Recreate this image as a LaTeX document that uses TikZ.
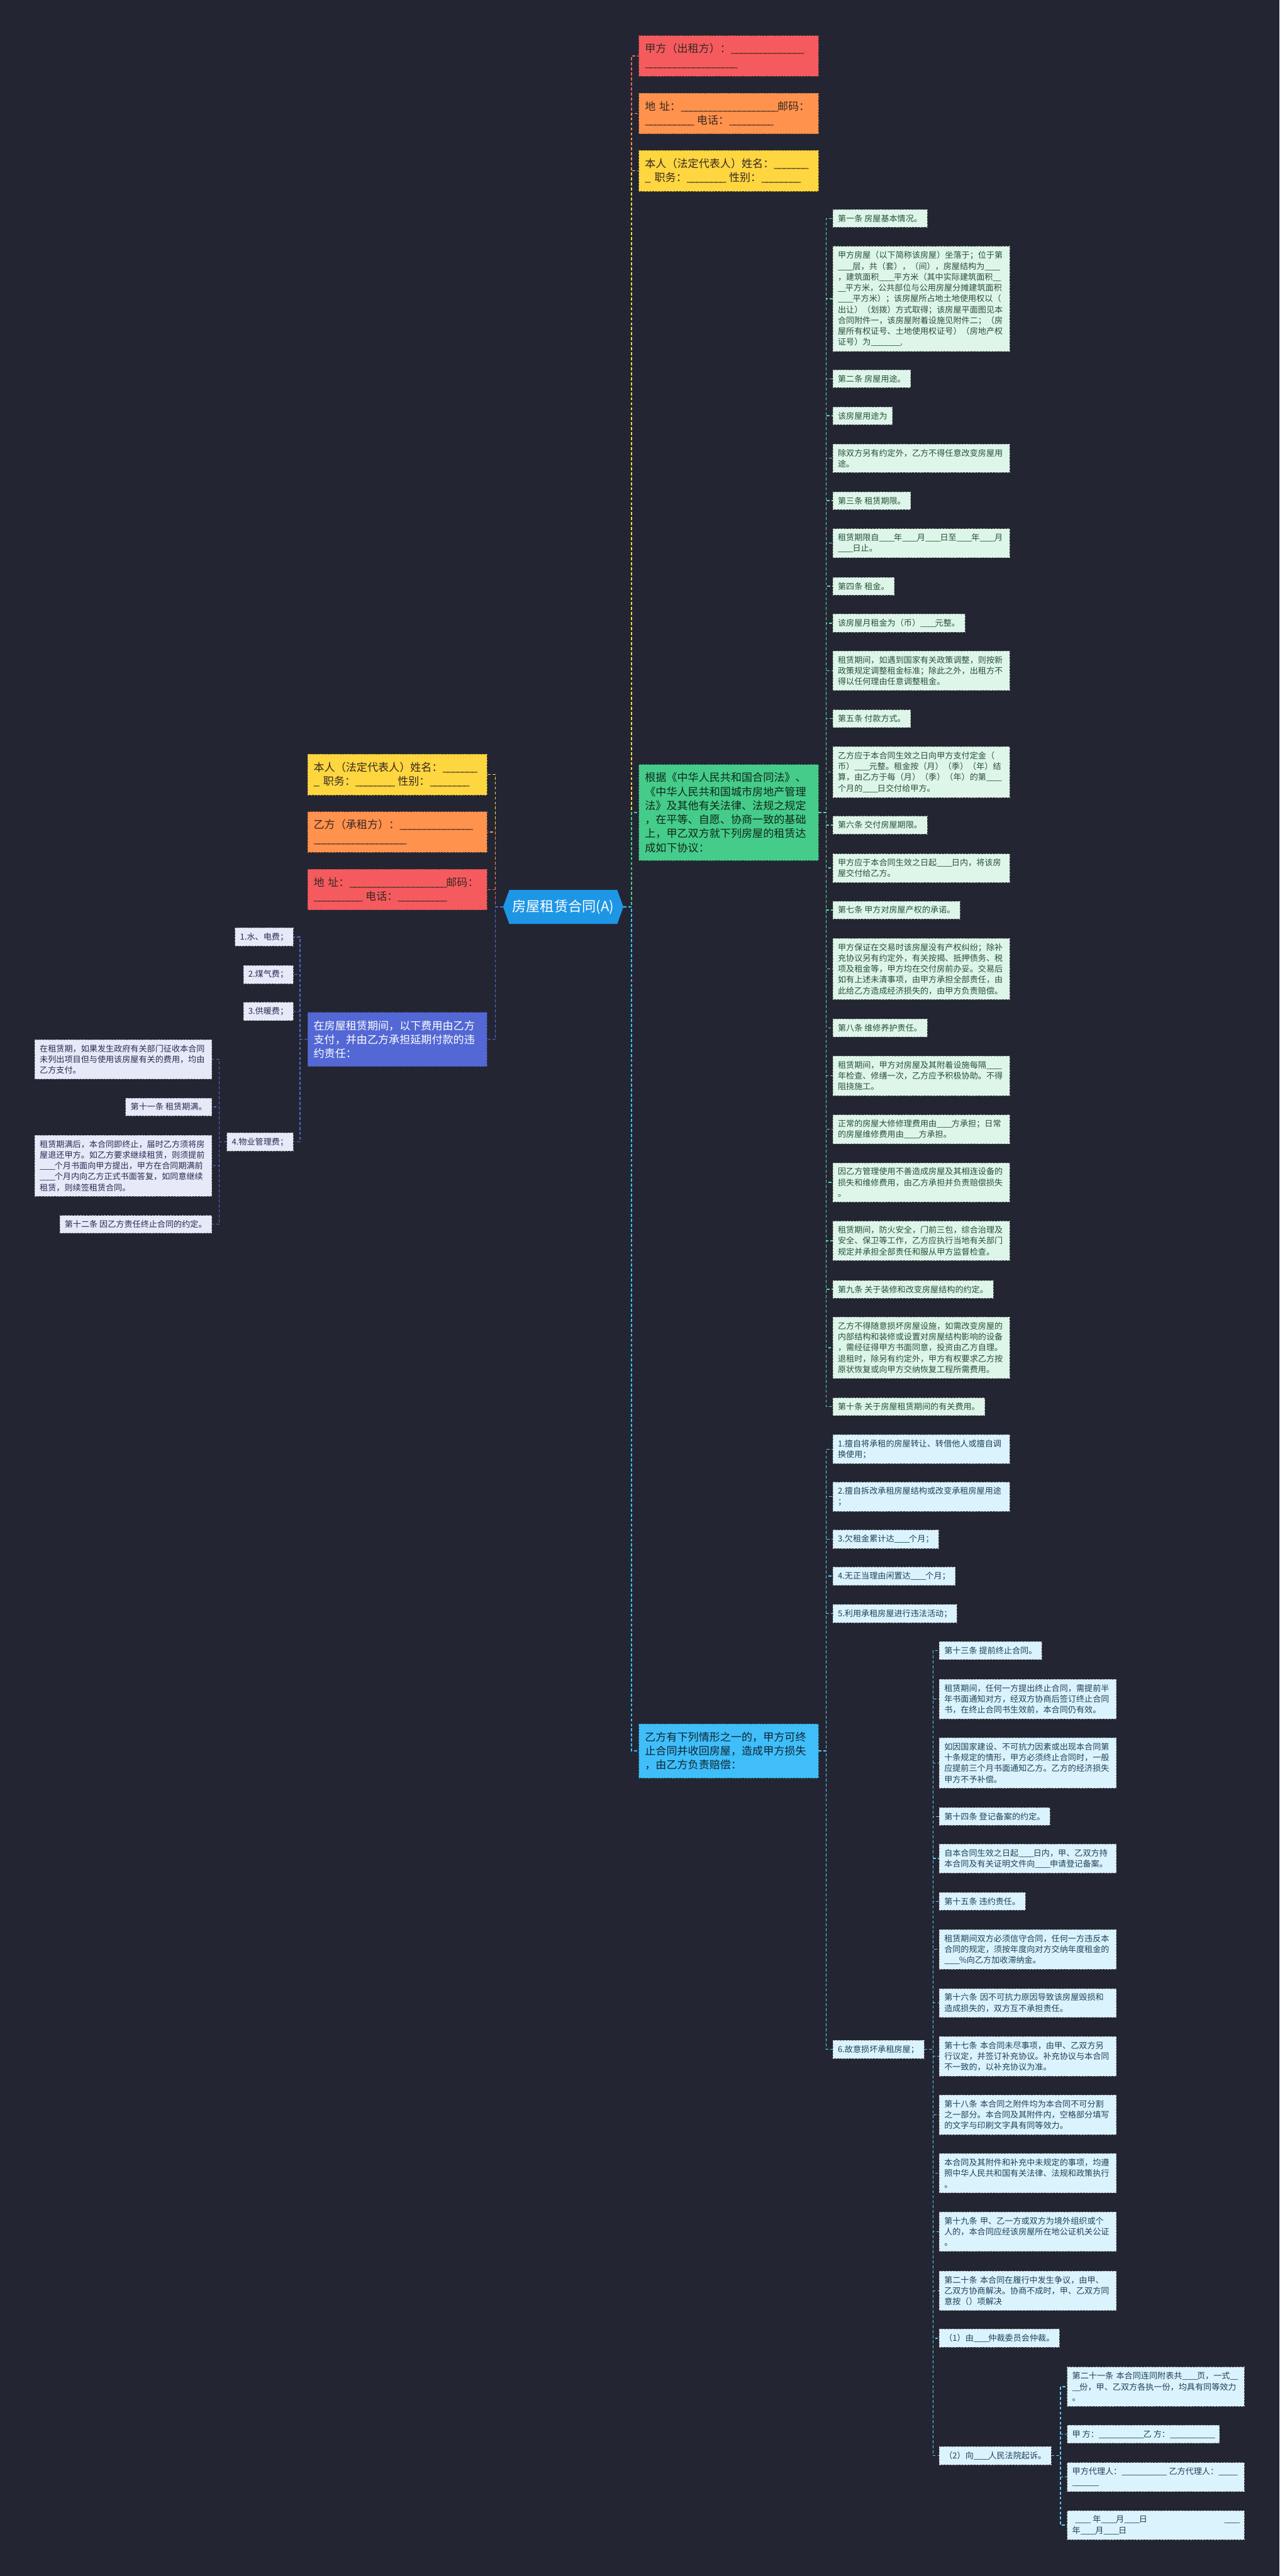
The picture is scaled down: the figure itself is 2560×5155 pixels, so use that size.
\documentclass[tikz,border=0pt]{standalone}
\usepackage{fontspec}
\setmainfont{Noto Sans CJK SC}
\usepackage{xcolor}
\definecolor{bgdark}{RGB}{35,38,50}
\definecolor{rootblue}{RGB}{30,150,230}
\definecolor{topred}{RGB}{245,91,94}
\definecolor{toporange}{RGB}{255,146,77}
\definecolor{topyellow}{RGB}{254,214,64}
\definecolor{topgreen}{RGB}{70,204,138}
\definecolor{topblue}{RGB}{64,190,250}
\definecolor{topviolet}{RGB}{83,104,212}
\definecolor{leafgreen}{RGB}{222,246,233}
\definecolor{leafblue}{RGB}{219,243,253}
\definecolor{leafviolet}{RGB}{230,233,248}
\definecolor{inkbrown}{RGB}{55,40,35}
\definecolor{inkgreen}{RGB}{40,80,60}
\definecolor{inkblue}{RGB}{30,66,90}
\definecolor{inkviolet}{RGB}{40,44,80}
\usepackage{tikz}
\usetikzlibrary{shapes.symbols}
\newcommand{\leaffnt}{\fontsize{16.5pt}{21.7pt}\selectfont}
\newcommand{\topicfnt}{\fontsize{21.5pt}{28pt}\selectfont}
\newcommand{\rootfnt}{\fontsize{28pt}{34pt}\selectfont}
\newcommand{\us}[1]{\foreach \k in {1,...,#1}{\makebox[0.45em][l]{\_}}}

\begin{document}
\begin{tikzpicture}[x=1pt, y=-1pt,
    root/.style={shape=signal, signal to=west and east, signal pointer angle=140,
                 fill=rootblue, text=white, font=\rootfnt,
                 minimum height=68pt, inner xsep=6pt},
    topic/.style={rectangle, dashed, line width=0.9pt, inner xsep=12pt, inner ysep=16pt,
                  font=\topicfnt, align=left, text width=335pt},
    leaf/.style={rectangle, draw=black!40, dashed, line width=0.8pt,
                 inner xsep=10pt, inner ysep=10pt, font=\leaffnt, align=left},
    gleaf/.style={leaf, fill=leafgreen, text=inkgreen, anchor=west},
    bleaf/.style={leaf, fill=leafblue, text=inkblue, anchor=west},
    vleaf/.style={leaf, fill=leafviolet, text=inkviolet, anchor=east},
    wide/.style={text width=334pt},
    lnk/.style={dashed, dash pattern=on 6pt off 4pt, line width=1.8pt}
  ]

  \fill[bgdark] (0,0) rectangle (2560,5155);
  \useasboundingbox (0,0) rectangle (2560,5155);

  \node[root] (R) at (1127,1815) {房屋租赁合同(A)};

  % right side
  \node[topic, fill=topred, draw=topred!70!black, text=inkbrown, anchor=west] (R1) at (1278,112)
    {甲方（出租方）：\us{15}\\\us{19}};
  \node[topic, fill=toporange, draw=toporange!70!black, text=inkbrown, anchor=west] (R2) at (1278,227)
    {地~址：\us{20}邮码：\\\us{10} 电话：\us{9}};
  \node[topic, fill=topyellow, draw=topyellow!70!black, text=inkbrown, anchor=west] (R3) at (1278,342)
    {本人（法定代表人）姓名：\us{7}\\\_ 职务：\us{8} 性别：\us{8}};
  \node[topic, fill=topgreen, draw=topgreen!70!black, text=black!80!topgreen, anchor=west] (G) at (1278,1626)
    {根据《中华人民共和国合同法》、\\《中华人民共和国城市房地产管理\\法》及其他有关法律、法规之规定\\，在平等、自愿、协商一致的基础\\上，甲乙双方就下列房屋的租赁达\\成如下协议：};
  \node[topic, fill=topblue, draw=topblue!70!black, text=black!80!topblue, anchor=west] (B) at (1278,3504)
    {乙方有下列情形之一的，甲方可终\\止合同并收回房屋，造成甲方损失\\，由乙方负责赔偿：};

  % left side
  \node[topic, fill=topyellow, draw=topyellow!70!black, text=inkbrown, anchor=east] (L1) at (975,1550)
    {本人（法定代表人）姓名：\us{7}\\\_ 职务：\us{8} 性别：\us{8}};
  \node[topic, fill=toporange, draw=toporange!70!black, text=inkbrown, anchor=east] (L2) at (975,1665)
    {乙方（承租方）：\us{15}\\\us{19}};
  \node[topic, fill=topred, draw=topred!70!black, text=inkbrown, anchor=east] (L3) at (975,1780)
    {地~址：\us{20}邮码：\\\us{10} 电话：\us{10}};
  \node[topic, fill=topviolet, draw=topviolet!70!black, text=white, anchor=east] (P) at (975,2080)
    {在房屋租赁期间，以下费用由乙方\\支付，并由乙方承担延期付款的违\\约责任：};

  % articles
  \node[gleaf] (g1) at (1666,437) {第一条 房屋基本情况。};
  \node[gleaf, wide] (g2) at (1666,598) {甲方房屋（以下简称该房屋）坐落于；位于第\\\us{4}层，共（套），（间），房屋结构为\us{4}\\，建筑面积\us{4}平方米（其中实际建筑面积\us{2}\\\us{2}平方米，公共部位与公用房屋分摊建筑面积\\\us{4}平方米）；该房屋所占地土地使用权以（\\出让）（划拨）方式取得；该房屋平面图见本\\合同附件一，该房屋附着设施见附件二；（房\\屋所有权证号、土地使用权证号）（房地产权\\证号）为\us{8}.};
  \node[gleaf] (g3) at (1666,758) {第二条 房屋用途。};
  \node[gleaf] (g4) at (1666,832) {该房屋用途为};
  \node[gleaf, wide] (g5) at (1666,917) {除双方另有约定外，乙方不得任意改变房屋用\\途。};
  \node[gleaf] (g6) at (1666,1002) {第三条 租赁期限。};
  \node[gleaf, wide] (g7) at (1666,1087) {租赁期限自\us{4}年\us{4}月\us{4}日至\us{4}年\us{4}月\\\us{4}日止。};
  \node[gleaf] (g8) at (1666,1173) {第四条 租金。};
  \node[gleaf] (g9) at (1666,1247) {该房屋月租金为（币）\us{4}元整。};
  \node[gleaf, wide] (g10) at (1666,1342) {租赁期间，如遇到国家有关政策调整，则按新\\政策规定调整租金标准；除此之外，出租方不\\得以任何理由任意调整租金。};
  \node[gleaf] (g11) at (1666,1438) {第五条 付款方式。};
  \node[gleaf, wide] (g12) at (1666,1545) {乙方应于本合同生效之日向甲方支付定金（\\币）\us{4}元整。租金按（月）（季）（年）结\\算，由乙方于每（月）（季）（年）的第\us{4}\\个月的\us{4}日交付给甲方。};
  \node[gleaf] (g13) at (1666,1651) {第六条 交付房屋期限。};
  \node[gleaf, wide] (g14) at (1666,1737) {甲方应于本合同生效之日起\us{4}日内，将该房\\屋交付给乙方。};
  \node[gleaf] (g15) at (1666,1821) {第七条 甲方对房屋产权的承诺。};
  \node[gleaf, wide] (g16) at (1666,1939) {甲方保证在交易时该房屋没有产权纠纷；除补\\充协议另有约定外，有关按揭、抵押债务、税\\项及租金等，甲方均在交付房前办妥。交易后\\如有上述未清事项，由甲方承担全部责任，由\\此给乙方造成经济损失的，由甲方负责赔偿。};
  \node[gleaf] (g17) at (1666,2057) {第八条 维修养护责任。};
  \node[gleaf, wide] (g18) at (1666,2153) {租赁期间，甲方对房屋及其附着设施每隔\us{4}\\年检查、修缮一次，乙方应予积极协助。不得\\阻挠施工。};
  \node[gleaf, wide] (g19) at (1666,2260) {正常的房屋大修修理费用由\us{4}方承担；日常\\的房屋维修费用由\us{4}方承担。};
  \node[gleaf, wide] (g20) at (1666,2366) {因乙方管理使用不善造成房屋及其相连设备的\\损失和维修费用，由乙方承担并负责赔偿损失\\。};
  \node[gleaf, wide] (g21) at (1666,2483) {租赁期间，防火安全，门前三包，综合治理及\\安全、保卫等工作，乙方应执行当地有关部门\\规定并承担全部责任和服从甲方监督检查。};
  \node[gleaf] (g22) at (1666,2580) {第九条 关于装修和改变房屋结构的约定。};
  \node[gleaf, wide] (g23) at (1666,2697) {乙方不得随意损坏房屋设施，如需改变房屋的\\内部结构和装修或设置对房屋结构影响的设备\\，需经征得甲方书面同意，投资由乙方自理。\\退租时，除另有约定外，甲方有权要求乙方按\\原状恢复或向甲方交纳恢复工程所需费用。};
  \node[gleaf] (g24) at (1666,2815) {第十条 关于房屋租赁期间的有关费用。};

  % termination cases
  \node[bleaf, wide] (b1) at (1666,2900) {1.擅自将承租的房屋转让、转借他人或擅自调\\换使用；};
  \node[bleaf, wide] (b2) at (1666,2995) {2.擅自拆改承租房屋结构或改变承租房屋用途\\；};
  \node[bleaf] (b3) at (1666,3080) {3.欠租金累计达\us{4}个月；};
  \node[bleaf] (b4) at (1666,3154) {4.无正当理由闲置达\us{4}个月；};
  \node[bleaf] (b5) at (1666,3229) {5.利用承租房屋进行违法活动；};
  \node[bleaf] (b6) at (1666,4101) {6.故意损坏承租房屋；};

  \node[bleaf] (c1) at (1879,3303) {第十三条 提前终止合同。};
  \node[bleaf, wide] (c2) at (1879,3400) {租赁期间，任何一方提出终止合同，需提前半\\年书面通知对方，经双方协商后签订终止合同\\书，在终止合同书生效前，本合同仍有效。};
  \node[bleaf, wide] (c3) at (1879,3528) {如因国家建设、不可抗力因素或出现本合同第\\十条规定的情形，甲方必须终止合同时，一般\\应提前三个月书面通知乙方。乙方的经济损失\\甲方不予补偿。};
  \node[bleaf] (c4) at (1879,3635) {第十四条 登记备案的约定。};
  \node[bleaf, wide] (c5) at (1879,3719) {自本合同生效之日起\us{4}日内，甲、乙双方持\\本合同及有关证明文件向\us{4}申请登记备案。};
  \node[bleaf] (c6) at (1879,3805) {第十五条 违约责任。};
  \node[bleaf, wide] (c7) at (1879,3901) {租赁期间双方必须信守合同，任何一方违反本\\合同的规定，须按年度向对方交纳年度租金的\\\us{4}\%向乙方加收滞纳金。};
  \node[bleaf, wide] (c8) at (1879,4008) {第十六条 因不可抗力原因导致该房屋毁损和\\造成损失的，双方互不承担责任。};
  \node[bleaf, wide] (c9) at (1879,4115) {第十七条 本合同未尽事项，由甲、乙双方另\\行议定，并签订补充协议。补充协议与本合同\\不一致的，以补充协议为准。};
  \node[bleaf, wide] (c10) at (1879,4232) {第十八条 本合同之附件均为本合同不可分割\\之一部分。本合同及其附件内，空格部分填写\\的文字与印刷文字具有同等效力。};
  \node[bleaf, wide] (c11) at (1879,4349) {本合同及其附件和补充中未规定的事项，均遵\\照中华人民共和国有关法律、法规和政策执行\\。};
  \node[bleaf, wide] (c12) at (1879,4466) {第十九条 甲、乙一方或双方为境外组织或个\\人的，本合同应经该房屋所在地公证机关公证\\。};
  \node[bleaf, wide] (c13) at (1879,4584) {第二十条 本合同在履行中发生争议，由甲、\\乙双方协商解决。协商不成时，甲、乙双方同\\意按（）项解决};
  \node[bleaf] (c14) at (1879,4679) {（1）由\us{4}仲裁委员会仲裁。};
  \node[bleaf] (c15) at (1879,4914) {（2）向\us{4}人民法院起诉。};

  \node[bleaf, wide] (d1) at (2135,4776) {第二十一条 本合同连同附表共\us{4}页，一式\us{2}\\\us{2}份，甲、乙双方各执一份，均具有同等效力\\。};
  \node[bleaf] (d2) at (2135,4871) {甲~方：\us{12}乙~方：\us{12}};
  \node[bleaf, wide] (d3) at (2135,4957) {甲方代理人：\us{12}~乙方代理人：\us{5}\\\us{7}};
  \node[bleaf, wide] (d4) at (2135,5053) {\hspace*{6pt}\us{4}~年\us{4}月\us{4}日\hfill\us{4}\\年\us{4}月\us{4}日};

  % fees
  \node[vleaf] (p1) at (587,1875) {1.水、电费；};
  \node[vleaf] (p2) at (587,1950) {2.煤气费；};
  \node[vleaf] (p3) at (587,2024) {3.供暖费；};
  \node[vleaf] (p4) at (587,2285) {4.物业管理费；};

  \node[vleaf, wide] (q1) at (424,2120) {在租赁期，如果发生政府有关部门征收本合同\\未列出项目但与使用该房屋有关的费用，均由\\乙方支付。};
  \node[vleaf] (q2) at (424,2215) {第十一条 租赁期满。};
  \node[vleaf, wide] (q3) at (424,2333) {租赁期满后，本合同即终止，届时乙方须将房\\屋退还甲方。如乙方要求继续租赁，则须提前\\\us{4}个月书面向甲方提出，甲方在合同期满前\\\us{4}个月内向乙方正式书面答复，如同意继续\\租赁，则续签租赁合同。};
  \node[vleaf] (q4) at (424,2450) {第十二条 因乙方责任终止合同的约定。};

  % connectors
  \foreach \n/\c in {R1/topred, R2/toporange, R3/topyellow, G/topgreen, B/topblue}
    \draw[lnk, color=\c] (R.east) -- ++(16,0) |- (\n.west);
  \foreach \n/\c in {L1/topyellow, L2/toporange, L3/topred, P/topviolet}
    \draw[lnk, color=\c] (R.west) -- ++(-15,0) |- (\n.east);

  \foreach \i in {1,...,24}
    \draw[lnk, color=topgreen!85!white] (G.east) -- ++(15,0) |- (g\i.west);
  \foreach \i in {1,...,6}
    \draw[lnk, color=topblue!85!white] (B.east) -- ++(15,0) |- (b\i.west);
  \foreach \i in {1,...,15}
    \draw[lnk, color=topblue!85!white] (b6.east) -- ++(18,0) |- (c\i.west);
  \foreach \i in {1,...,4}
    \draw[lnk, color=topblue!85!white] (c15.east) -- ++(18,0) |- (d\i.west);
  \foreach \i in {1,...,4}
    \draw[lnk, color=topviolet] (P.west) -- ++(-15,0) |- (p\i.east);
  \foreach \i in {1,...,4}
    \draw[lnk, color=topviolet] (p4.west) -- ++(-15,0) |- (q\i.east);

\end{tikzpicture}
\end{document}
